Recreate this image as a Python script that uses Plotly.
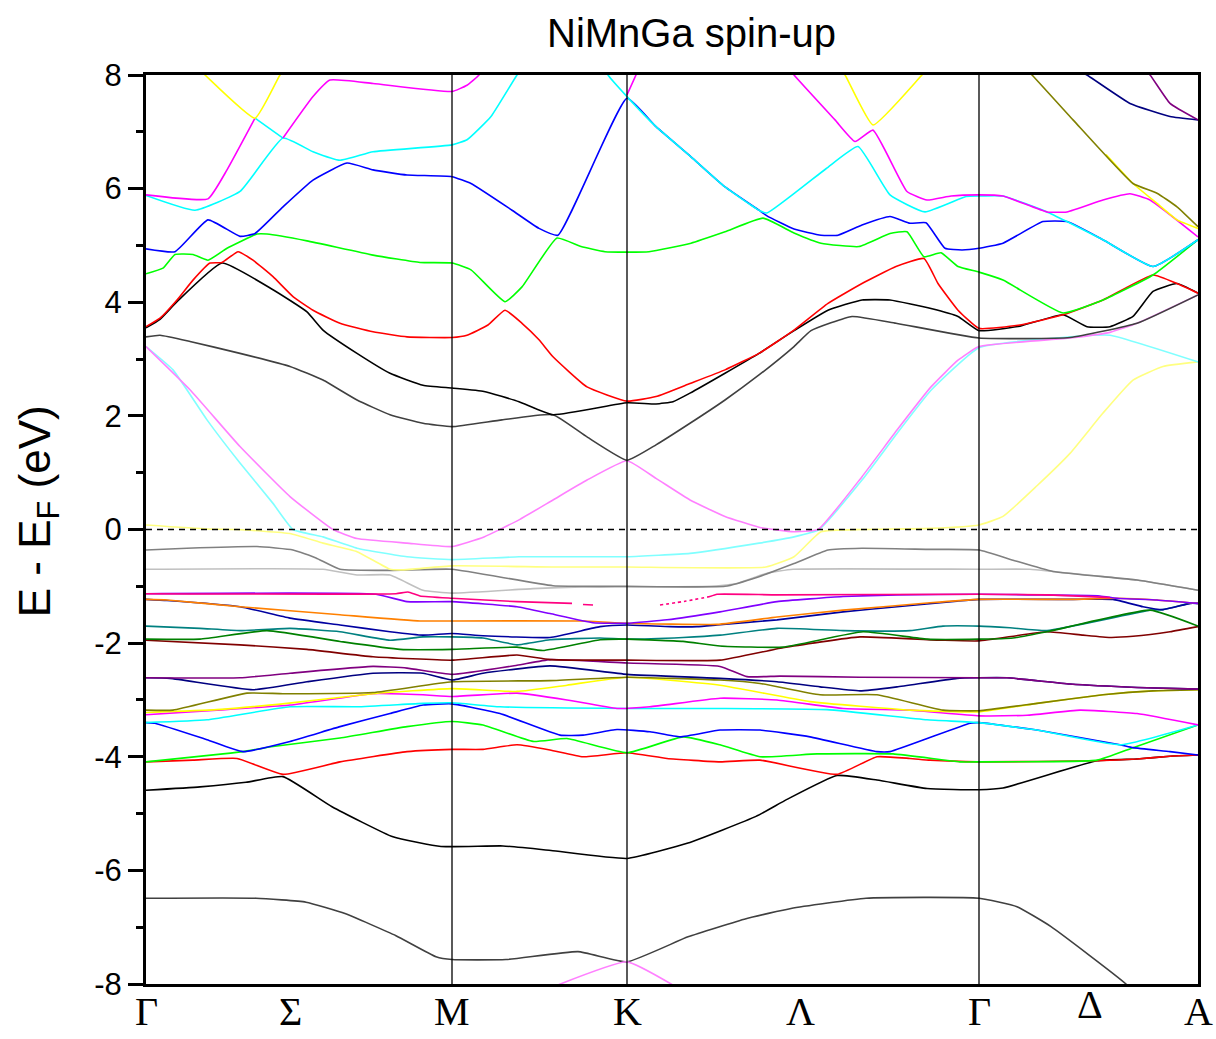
import plotly.graph_objects as go

# ---- k-path (path coordinate) and labels ----
K_TICKS = [0, 144, 306, 481, 654, 833, 944, 1052]
K_LABELS = ["Γ", "Σ", "M", "K", "Λ", "Γ", "Δ", "A"]
K_VLINES = [306, 481, 833]
Y_TICKS = [-8, -6, -4, -2, 0, 2, 4, 6, 8]
Y_TICKTEXT = ["-8", "-6", "-4", "-2", "0", "2", "4", "6", "8"]
Y_MINOR = [-7, -5, -3, -1, 1, 3, 5, 7]

N = (None, None)

# ---- bands: (k, E) pairs, in drawing order ----
DKGRAY_LOW = [(0,-6.49),(110,-6.49),(160,-6.56),(199,-6.76),(250,-7.15),(290,-7.52),(306,-7.57),(360,-7.57),(432,-7.43),(481,-7.61),(542,-7.17),(600,-6.85),(645,-6.67),(720,-6.49),(833,-6.49),(871,-6.64),(905,-6.99),(980,-8.0),(1000,-8.4)]
LTMAG_BOTTOM = [(400,-8.1),(481,-7.61),(530,-8.05)]
BLACK_LOW = [(0,-4.59),(54,-4.53),(100,-4.45),(137,-4.35),(186,-4.88),(247,-5.41),(295,-5.58),(357,-5.57),(405,-5.65),(481,-5.79),(542,-5.52),(610,-5.05),(641,-4.75),(691,-4.33),(731,-4.41),(781,-4.56),(833,-4.58),(857,-4.55),(951,-4.07),(991,-4.04),(1024,-3.99),(1052,-3.97)]
RED_LOW = [(0,-4.09),(47,-4.06),(91,-4.03),(137,-4.31),(194,-4.09),(261,-3.91),(306,-3.87),(337,-3.87),(371,-3.79),(404,-3.88),(437,-4.00),(481,-3.93),(521,-4.03),(574,-4.09),(614,-4.06),(691,-4.31),(731,-4.00),(764,-4.03),(784,-4.06),(833,-4.09),(951,-4.07),(991,-4.04),(1024,-3.99),(1052,-3.97)]
GREEN_LOW = [(0,-4.09),(77,-3.95),(97,-3.91),(127,-3.82),(194,-3.67),(261,-3.47),(306,-3.38),(337,-3.44),(387,-3.73),(421,-3.68),(481,-3.93),(537,-3.65),(574,-3.79),(614,-4.00),(671,-3.95),(747,-3.95),(814,-4.09),(833,-4.09),(951,-4.06),(987,-3.84),(1052,-3.44)]
BLUE_LOW = [(0,-3.40),(9,-3.41),(61,-3.70),(97,-3.91),(144,-3.73),(194,-3.47),(244,-3.24),(277,-3.09),(306,-3.07),(354,-3.24),(414,-3.62),(437,-3.62),(471,-3.52),(504,-3.56),(534,-3.65),(574,-3.53),(614,-3.53),(664,-3.65),(731,-3.91),(744,-3.91),(824,-3.41),(833,-3.40),(891,-3.53),(974,-3.79),(987,-3.84),(1024,-3.91),(1052,-3.97)]
CYAN_LOW = [(0,-3.40),(61,-3.35),(144,-3.12),(211,-3.12),(277,-3.06),(306,-3.05),(354,-3.12),(481,-3.15),(574,-3.15),(681,-3.17),(781,-3.35),(833,-3.40),(891,-3.53),(974,-3.79),(1052,-3.44)]
MAGENTA_LOW = [(0,-3.26),(71,-3.18),(144,-3.09),(227,-2.89),(277,-2.91),(306,-2.94),(371,-2.88),(421,-3.00),(471,-3.15),(504,-3.12),(574,-2.97),(631,-3.00),(697,-3.15),(764,-3.18),(833,-3.28),(881,-3.27),(934,-3.18),(991,-3.24),(1052,-3.44)]
YELLOW_LOW = [(0,-3.22),(71,-3.17),(141,-3.06),(227,-2.89),(306,-2.80),(371,-2.85),(421,-2.74),(481,-2.60),(574,-2.74),(664,-3.03),(764,-3.18),(833,-3.21),(891,-3.06),(957,-2.91),(1007,-2.84),(1052,-2.82)]
OLIVE_LOW = [(0,-3.18),(27,-3.18),(101,-2.88),(137,-2.89),(227,-2.87),(306,-2.68),(404,-2.66),(481,-2.60),(574,-2.65),(614,-2.71),(674,-2.91),(731,-2.91),(797,-3.18),(833,-3.19),(891,-3.06),(957,-2.91),(1007,-2.84),(1052,-2.82)]
NAVY_LOW = [(0,-2.61),(24,-2.62),(107,-2.82),(161,-2.68),(227,-2.53),(277,-2.53),(306,-2.65),(337,-2.53),(404,-2.40),(481,-2.55),(574,-2.62),(631,-2.68),(674,-2.77),(714,-2.84),(751,-2.77),(811,-2.62),(833,-2.61),(861,-2.61),(924,-2.72),(991,-2.78),(1052,-2.81)]
PURPLE_LOW = [(0,-2.61),(94,-2.61),(144,-2.53),(227,-2.41),(261,-2.44),(306,-2.55),(371,-2.39),(404,-2.29),(481,-2.35),(574,-2.41),(601,-2.59),(634,-2.58),(714,-2.60),(833,-2.61),(861,-2.61),(924,-2.72),(991,-2.78),(1052,-2.81)]
WINE = [(0,-1.95),(94,-2.03),(161,-2.11),(227,-2.24),(306,-2.30),(371,-2.21),(404,-2.29),(481,-2.30),(574,-2.30),(637,-2.08),(714,-1.89),(797,-1.95),(833,-1.96),(901,-1.80),(937,-1.86),(964,-1.90),(987,-1.88),(1024,-1.80),(1052,-1.71)]
DKCYAN = [(0,-1.70),(54,-1.74),(94,-1.78),(144,-1.74),(194,-1.80),(244,-1.95),(277,-1.89),(306,-1.89),(337,-1.91),(371,-2.03),(404,-1.94),(454,-1.91),(481,-1.93),(537,-1.90),(574,-1.86),(631,-1.74),(697,-1.78),(764,-1.78),(797,-1.70),(833,-1.70),(864,-1.73),(901,-1.78),(1004,-1.42),(1017,-1.41),(1044,-1.30),(1052,-1.30)]
DKGREEN = [(0,-1.93),(54,-1.93),(121,-1.78),(194,-1.97),(254,-2.11),(306,-2.11),(371,-2.07),(397,-2.13),(454,-1.94),(481,-1.93),(537,-1.97),(574,-2.05),(637,-2.07),(717,-1.80),(781,-1.93),(833,-1.93),(867,-1.91),(901,-1.80),(1004,-1.42),(1052,-1.70)]
ROYAL = [(0,-1.23),(21,-1.25),(94,-1.36),(144,-1.56),(194,-1.68),(244,-1.80),(277,-1.86),(306,-1.83),(337,-1.87),(404,-1.90),(454,-1.71),(481,-1.68),(524,-1.71),(551,-1.71),(571,-1.68),(631,-1.59),(697,-1.45),(751,-1.36),(811,-1.26),(833,-1.23),(927,-1.23),(967,-1.23),(997,-1.36),(1017,-1.41),(1044,-1.30),(1052,-1.30)]
ORANGE = [(0,-1.23),(21,-1.24),(94,-1.36),(194,-1.50),(274,-1.61),(306,-1.61),(437,-1.61),(481,-1.65),(571,-1.67),(631,-1.54),(697,-1.42),(784,-1.29),(833,-1.23),(927,-1.23),(971,-1.21),(1011,-1.24),(1052,-1.30)]
VIOLET = [(0,-1.13),(230,-1.14),(261,-1.27),(306,-1.27),(371,-1.36),(404,-1.48),(447,-1.64),(481,-1.65),(521,-1.59),(574,-1.45),(631,-1.27),(697,-1.18),(751,-1.15),(833,-1.14),(954,-1.17),(971,-1.21),(1011,-1.24),(1052,-1.30)]
PINK = [(0,-1.13),(250,-1.13),(262,-1.10),(274,-1.17),(306,-1.21),(371,-1.27),(426,-1.30),N,(437,-1.32),(447,-1.33),N,(564,-1.18),(571,-1.14),(631,-1.15),(833,-1.14),(901,-1.15),(954,-1.19),(964,-1.20)]
PINK_DOTS = [(514,-1.33),(540,-1.26),(564,-1.18)]
LTGRAY = [(0,-0.70),(177,-0.70),(211,-0.80),(244,-0.80),(277,-1.07),(306,-1.12),(387,-1.04),(437,-1.01),(481,-1.01),(564,-1.00),(591,-0.95),(621,-0.77),(647,-0.70),(833,-0.70),(884,-0.70),(907,-0.74),(991,-0.89),(1052,-1.07)]
GRAY = [(0,-0.36),(41,-0.33),(111,-0.30),(147,-0.36),(170,-0.50),(194,-0.70),(244,-0.72),(306,-0.70),(407,-0.99),(481,-1.00),(579,-1.00),(613,-0.83),(648,-0.60),(682,-0.36),(716,-0.33),(785,-0.35),(833,-0.36),(867,-0.54),(907,-0.74),(991,-0.89),(1052,-1.07)]
LTYELLOW = [(0,0.08),(61,0.01),(91,0.0),(144,-0.07),(177,-0.24),(211,-0.39),(244,-0.70),(257,-0.71),(306,-0.64),(407,-0.66),(481,-0.66),(620,-0.66),(648,-0.48),(675,-0.04),(716,0.0),(785,0.02),(833,0.08),(857,0.23),(891,0.77),(924,1.34),(957,2.05),(987,2.63),(1017,2.87),(1052,2.95)]
LTCYAN = [(0,3.22),(27,2.81),(61,1.93),(94,1.17),(127,0.46),(147,0.0),(177,-0.13),(211,-0.33),(261,-0.48),(306,-0.53),(373,-0.48),(481,-0.48),(544,-0.42),(613,-0.24),(648,-0.13),(673,0.0),(716,0.87),(751,1.69),(785,2.45),(833,3.20),(931,3.40),(964,3.42),(1052,2.95)]
LTMAGENTA = [(0,3.22),(44,2.46),(94,1.46),(144,0.58),(187,0.0),(211,-0.16),(261,-0.24),(306,-0.30),(338,-0.13),(373,0.17),(407,0.52),(441,0.87),(481,1.21),(510,0.90),(544,0.52),(579,0.23),(613,0.04),(648,-0.04),(672,0.0),(716,0.93),(751,1.75),(785,2.51),(812,2.98),(833,3.22),(924,3.37),(964,3.47),(991,3.63),(1052,4.13)]
DKGRAY_UP = [(0,3.39),(14,3.42),(44,3.31),(94,3.10),(144,2.87),(177,2.63),(211,2.28),(244,2.02),(277,1.87),(306,1.81),(356,1.93),(407,2.02),(441,1.63),(481,1.22),(510,1.49),(544,1.87),(579,2.28),(613,2.72),(648,3.22),(665,3.50),(706,3.75),(750,3.63),(833,3.37),(924,3.38),(991,3.63),(1052,4.13)]
BLACK_UP = [(0,3.55),(14,3.70),(31,4.01),(76,4.69),(127,4.22),(161,3.83),(177,3.51),(211,3.10),(244,2.75),(277,2.54),(306,2.49),(338,2.43),(373,2.25),(407,2.02),(481,2.23),(510,2.21),(527,2.25),(544,2.40),(579,2.75),(613,3.10),(648,3.50),(682,3.86),(716,4.04),(744,4.04),(785,3.89),(812,3.75),(833,3.50),(874,3.58),(917,3.78),(941,3.57),(964,3.57),(987,3.75),(1007,4.19),(1031,4.33),(1052,4.16)]
RED_UP = [(0,3.57),(14,3.72),(31,4.04),(47,4.39),(64,4.69),(76,4.70),(92,4.89),(107,4.74),(127,4.45),(147,4.10),(167,3.86),(194,3.63),(227,3.48),(261,3.39),(306,3.38),(321,3.42),(342,3.60),(359,3.86),(376,3.63),(393,3.34),(407,3.04),(441,2.51),(481,2.26),(510,2.34),(544,2.57),(579,2.81),(613,3.10),(648,3.51),(682,3.98),(716,4.33),(750,4.63),(778,4.77),(792,4.33),(812,3.86),(833,3.54),(874,3.60),(917,3.78),(957,4.04),(1007,4.48),(1031,4.33),(1052,4.16)]
GREEN_UP = [(0,4.50),(17,4.60),(29,4.84),(47,4.84),(62,4.74),(81,4.95),(111,5.20),(121,5.20),(161,5.08),(227,4.83),(274,4.70),(306,4.69),(325,4.57),(359,4.01),(376,4.27),(411,5.13),(435,4.98),(459,4.89),(503,4.89),(545,5.04),(579,5.24),(617,5.48),(648,5.22),(675,5.04),(713,4.98),(744,5.21),(761,5.24),(778,4.80),(795,4.87),(812,4.63),(833,4.53),(857,4.39),(917,3.81),(957,4.04),(1007,4.48),(1052,5.10)]
BLUE_UP = [(0,4.94),(29,4.89),(62,5.45),(94,5.16),(109,5.21),(137,5.68),(167,6.15),(201,6.45),(227,6.33),(261,6.24),(306,6.21),(325,6.09),(366,5.62),(393,5.30),(412,5.18),(481,7.59),(510,7.09),(545,6.56),(579,6.03),(613,5.62),(621,5.52),(648,5.29),(675,5.18),(692,5.18),(716,5.36),(744,5.51),(764,5.39),(780,5.40),(799,4.95),(816,4.92),(833,4.95),(857,5.04),(897,5.42),(921,5.42),(957,5.10),(1007,4.63),(1052,5.10)]
CYAN_UP = [(0,5.88),(49,5.62),(94,5.95),(137,6.89),(167,6.65),(194,6.50),(227,6.65),(306,6.77),(321,6.86),(345,7.27),(371,8.0),(400,8.7),(440,8.7),(462,8.0),(481,7.62),(510,7.09),(545,6.56),(579,6.03),(613,5.62),(621,5.57),(680,6.35),(712,6.74),(744,5.89),(779,5.59),(820,5.86),(833,5.87),(857,5.87),(901,5.59),(921,5.42),(957,5.10),(1007,4.63),(1052,5.10)]
CYAN_PIECE = [(109,7.24),(137,6.89)]
MAGENTA_UP = [(0,5.89),(62,5.82),(81,6.33),(109,7.24),N,(137,6.89),(167,7.62),(184,7.91),(227,7.85),(306,7.71),(321,7.82),(333,8.0),(345,8.4),N,(481,7.65),(490,8.0),(500,8.4),N,(630,8.4),(648,8.0),(689,7.21),(709,6.83),(727,7.03),(761,5.95),(781,5.80),(805,5.87),(833,5.89),(857,5.87),(901,5.59),(921,5.59),(957,5.80),(984,5.91),(1004,5.80),(1052,5.15)]
YELLOW_TOP = [(55,8.06),(59,8.0),(109,7.24),(134,8.0),(138,8.06),N,(695,8.06),(699,8.0),(727,7.12),(776,8.0),(780,8.06),N,(960,6.6),(987,6.09),(1011,5.74),(1031,5.45),(1052,5.30)]
OLIVE_TOP = [(880,8.1),(886,8.0),(927,7.21),(987,6.09),(1011,5.92),(1031,5.68),(1052,5.33)]
NAVY_TOP = [(935,8.05),(941,8.0),(984,7.50),(1024,7.27),(1052,7.21)]
PURPLE_TOP = [(1000,8.05),(1004,8.0),(1024,7.50),(1052,7.21)]

BANDS = [
    (DKGRAY_LOW, "#404040", "solid"),
    (LTMAG_BOTTOM, "#ff80ff", "solid"),
    (BLACK_LOW, "#000000", "solid"),
    (RED_LOW, "#ff0000", "solid"),
    (GREEN_LOW, "#00ff00", "solid"),
    (BLUE_LOW, "#0000ff", "solid"),
    (CYAN_LOW, "#00ffff", "solid"),
    (MAGENTA_LOW, "#ff00ff", "solid"),
    (YELLOW_LOW, "#ffff00", "solid"),
    (OLIVE_LOW, "#808000", "solid"),
    (NAVY_LOW, "#000080", "solid"),
    (PURPLE_LOW, "#800080", "solid"),
    (WINE, "#800000", "solid"),
    (DKCYAN, "#008080", "solid"),
    (DKGREEN, "#008000", "solid"),
    (ROYAL, "#0000a0", "solid"),
    (ORANGE, "#ff8000", "solid"),
    (VIOLET, "#8000ff", "solid"),
    (PINK, "#ff0080", "solid"),
    (PINK_DOTS, "#ff0080", "dot"),
    (LTGRAY, "#c0c0c0", "solid"),
    (GRAY, "#808080", "solid"),
    (LTYELLOW, "#ffff80", "solid"),
    (LTCYAN, "#80ffff", "solid"),
    (LTMAGENTA, "#ff80ff", "solid"),
    (DKGRAY_UP, "#404040", "solid"),
    (BLACK_UP, "#000000", "solid"),
    (RED_UP, "#ff0000", "solid"),
    (GREEN_UP, "#00ff00", "solid"),
    (BLUE_UP, "#0000ff", "solid"),
    (CYAN_UP, "#00ffff", "solid"),
    (CYAN_PIECE, "#00ffff", "solid"),
    (MAGENTA_UP, "#ff00ff", "solid"),
    (YELLOW_TOP, "#ffff00", "solid"),
    (OLIVE_TOP, "#808000", "solid"),
    (NAVY_TOP, "#000080", "solid"),
    (PURPLE_TOP, "#800080", "solid"),
]

fig = go.Figure()
for pts, color, dash in BANDS:
    xs = [p[0] for p in pts]
    ys = [p[1] for p in pts]
    fig.add_trace(go.Scatter(
        x=xs, y=ys, mode="lines", showlegend=False, hoverinfo="skip",
        connectgaps=False,
        line=dict(color=color, width=1.6, dash=dash, shape="spline", smoothing=0.4),
    ))

shapes = []
for kv in K_VLINES:
    shapes.append(dict(type="line", xref="x", yref="y", x0=kv, x1=kv, y0=-8, y1=8,
                       line=dict(color="black", width=1.3), layer="above"))
shapes.append(dict(type="line", xref="x", yref="y", x0=0, x1=1052, y0=0, y1=0,
                   line=dict(color="black", width=1.5, dash="6px,5px"), layer="above"))

annotations = []
for kv, lab in zip(K_TICKS, K_LABELS):
    yshift = -3
    if lab == "Δ":
        yshift = 4
    annotations.append(dict(x=kv, y=0, xref="x", yref="paper", text=lab, showarrow=False,
                            yanchor="top", xanchor="center", yshift=yshift,
                            font=dict(family="Liberation Serif", size=40, color="black")))
annotations.append(dict(x=0.519, y=1.046, xref="paper", yref="paper", text="NiMnGa spin-up",
                        showarrow=False, xanchor="center", yanchor="middle",
                        font=dict(family="Liberation Sans", size=40, color="black")))
annotations.append(dict(x=-0.1027, y=0.52, xref="paper", yref="paper",
                        text="E - E<sub>F</sub> (eV)", textangle=-90, showarrow=False,
                        xanchor="center", yanchor="middle",
                        font=dict(family="Liberation Sans", size=44, color="black")))

fig.update_layout(
    width=1216, height=1039,
    margin=dict(l=146, r=18, t=75, b=55),
    paper_bgcolor="white", plot_bgcolor="white",
    shapes=shapes, annotations=annotations,
    xaxis=dict(range=[0, 1052], showgrid=False, zeroline=False, showline=True, mirror=True,
               linecolor="black", linewidth=3, ticks="", showticklabels=False),
    yaxis=dict(range=[-8, 8], showgrid=False, zeroline=False, showline=True, mirror=True,
               linecolor="black", linewidth=3, ticks="outside", ticklen=15, tickwidth=3,
               tickcolor="black", tickvals=Y_TICKS, ticktext=Y_TICKTEXT,
               tickfont=dict(family="Liberation Sans", size=31, color="black"),
               minor=dict(tickvals=Y_MINOR, ticks="outside", ticklen=7, tickwidth=3,
                          tickcolor="black")),
)

fig.write_html("out.html")
